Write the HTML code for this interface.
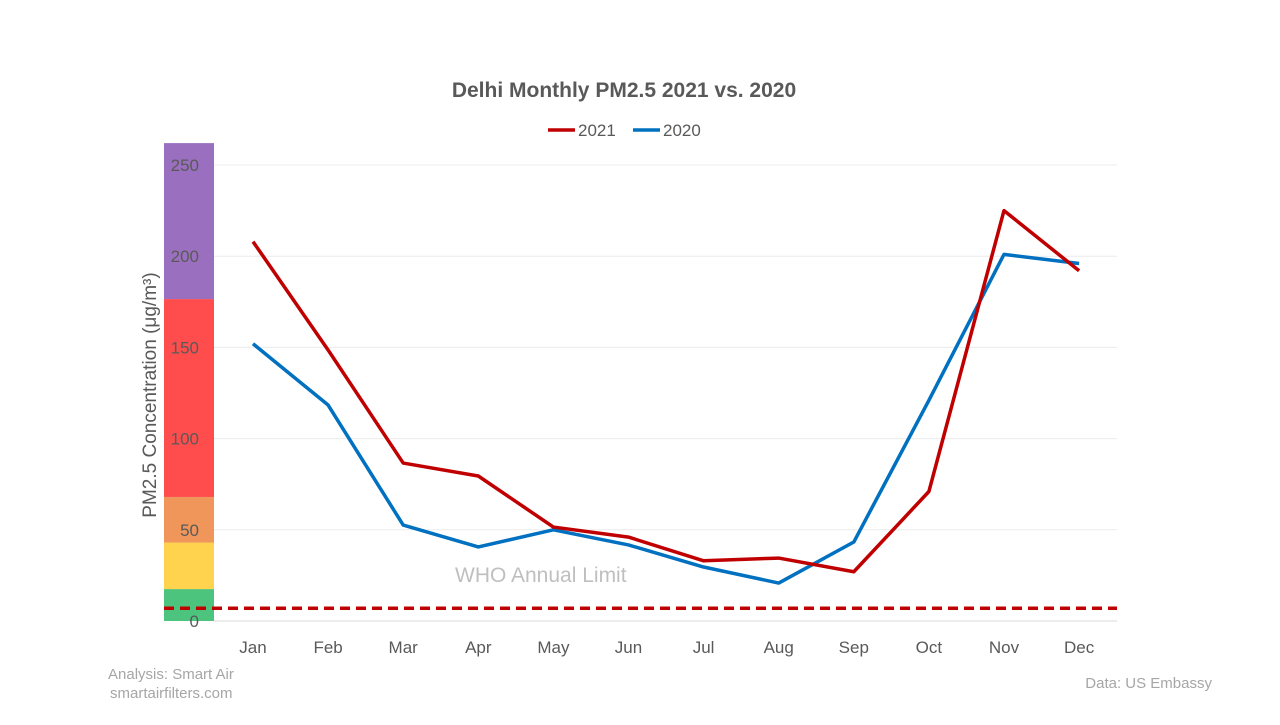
<!DOCTYPE html>
<html><head><meta charset="utf-8"><style>
body{margin:0;background:#fff;font-family:"Liberation Sans",sans-serif}
svg text{font-family:"Liberation Sans",sans-serif}
</style></head><body>
<svg id="chart" width="1280" height="720">
<text x="624" y="97" text-anchor="middle" font-size="21" font-weight="bold" fill="#595959">Delhi Monthly PM2.5 2021 vs. 2020</text>
<g>
<line x1="548" y1="130" x2="575" y2="130" stroke="#c00000" stroke-width="3.5"/>
<text x="578" y="136" font-size="17" fill="#595959">2021</text>
<line x1="633" y1="130" x2="660" y2="130" stroke="#0070c0" stroke-width="3.5"/>
<text x="663" y="136" font-size="17" fill="#595959">2020</text>
</g>
<g id="bands"></g><g id="grid"></g><g id="ticks"></g><g id="series"></g>
<text x="156" y="395" transform="rotate(-90 156 395)" text-anchor="middle" font-size="19" fill="#595959">PM2.5 Concentration (μg/m³)</text>
<text x="455" y="582" font-size="21" fill="#bfbfbf">WHO Annual Limit</text>
<text x="108" y="679" font-size="15" fill="#a6a6a6">Analysis:  Smart Air</text>
<text x="110" y="698" font-size="15" fill="#a6a6a6">smartairfilters.com</text>
<text x="1212" y="688" text-anchor="end" font-size="15" fill="#a6a6a6">Data: US Embassy</text>
</svg>
<script>
const months=["Jan","Feb","Mar","Apr","May","Jun","Jul","Aug","Sep","Oct","Nov","Dec"];
const pm2021=[208,148.6,86.6,79.5,51.5,46,33,34.5,27,71,225,192];
const pm2020=[152,118.4,52.6,40.6,50,41.7,29.6,20.8,43.3,121,201,196];
const yTicks=[0,50,100,150,200,250];
const bandEdges=[0,17.5,43,68,176.5,262];
const bandColors=["#4dc47e","#ffd34d","#f0965a","#ff4d4d","#9b6fbf"];
const whoLimit=7;
const NS="http://www.w3.org/2000/svg";
const y=v=>621-v*1.824, x=i=>253+i*75.1;
function mk(p,t,a){const e=document.createElementNS(NS,t);for(const k in a)e.setAttribute(k,a[k]);document.getElementById(p).appendChild(e);return e;}
for(let i=0;i<bandColors.length;i++){
 const r=mk("bands","rect",{x:164,y:y(bandEdges[i+1]),width:50,height:y(bandEdges[i])-y(bandEdges[i+1]),fill:bandColors[i]});
 
 
}
yTicks.forEach(t=>{
 if(t>0){const g=mk("grid","line",{x1:214,x2:1117,y1:y(t),y2:y(t),stroke:"#ececec","stroke-width":1});
 
 }
 const l=mk("ticks","text",{x:199,y:y(t)+6,"text-anchor":"end","font-size":17,fill:"#595959"});l.textContent=t;
 
 
});
const ax=mk("grid","line",{x1:214,x2:1117,y1:621,y2:621,stroke:"#d9d9d9","stroke-width":1});


months.forEach((m,i)=>{const l=mk("ticks","text",{x:x(i),y:653,"text-anchor":"middle","font-size":17,fill:"#595959"});l.textContent=m;
 
 });
const w=mk("series","line",{x1:164,x2:1117,y1:y(whoLimit),y2:y(whoLimit),stroke:"#c00000","stroke-width":3.5,"stroke-dasharray":"10,6"});


[[pm2020,"#0070c0","line-2020"],[pm2021,"#c00000","line-2021"]].forEach(([d,c,n])=>{
 const p=mk("series","polyline",{points:d.map((v,i)=>x(i)+","+y(v)).join(" "),fill:"none",stroke:c,"stroke-width":3.5,"stroke-linejoin":"round"});
 
 
});
</script>
</body></html>
